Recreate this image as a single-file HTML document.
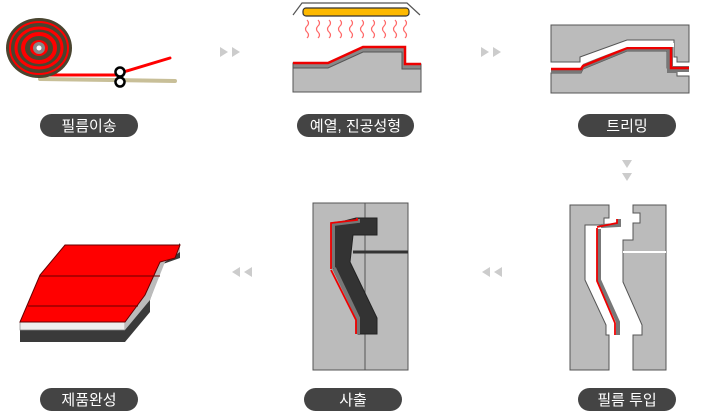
<!DOCTYPE html>
<html><head><meta charset="utf-8"><style>
body{margin:0;background:#fff;}
svg{display:block}
.l{font-family:"Liberation Sans","Noto Sans CJK KR",sans-serif;font-size:15px;fill:#fff;text-anchor:middle}
</style></head><body>
<svg width="702" height="420" viewBox="0 0 702 420" xmlns="http://www.w3.org/2000/svg">
<!-- step 1: roll -->
<line x1="40" y1="79" x2="175" y2="81" stroke="#c8bf98" stroke-width="4" stroke-linecap="round"/>
<line x1="40" y1="75" x2="120" y2="75" stroke="#f00" stroke-width="3"/>
<line x1="120" y1="73" x2="170" y2="58" stroke="#f00" stroke-width="3" stroke-linecap="round"/>
<ellipse cx="39" cy="48" rx="33" ry="30" fill="#4a4530"/>
<ellipse cx="39" cy="48" rx="29" ry="26" fill="none" stroke="#f00" stroke-width="2"/>
<ellipse cx="39" cy="48" rx="23" ry="20" fill="none" stroke="#f00" stroke-width="3"/>
<ellipse cx="39" cy="48" rx="16" ry="14" fill="none" stroke="#f00" stroke-width="4"/>
<ellipse cx="39" cy="48" rx="9" ry="8" fill="#f00"/>
<circle cx="39" cy="48" r="6" fill="#888"/>
<circle cx="39" cy="48" r="2.5" fill="#fff"/>
<circle cx="120" cy="72" r="4.5" fill="#fff" stroke="#000" stroke-width="2.5"/>
<circle cx="120" cy="82" r="4.5" fill="#fff" stroke="#000" stroke-width="2.5"/>
<!-- arrows -->
<g fill="#ccc">
<polygon points="220,47 228,52 220,57"/><polygon points="232,47 240,52 232,57"/>
<polygon points="481,47 489,52 481,57"/><polygon points="493,47 501,52 493,57"/>
<polygon points="622,160 632,160 627,168"/><polygon points="622,173 632,173 627,181"/>
<polygon points="240,267 232,272 240,277"/><polygon points="252,267 244,272 252,277"/>
<polygon points="490,267 482,272 490,277"/><polygon points="502,267 494,272 502,277"/>
</g>
<!-- step 2: heater -->
<polyline points="293,15 302,3 407,3 420,15" fill="none" stroke="#555" stroke-width="1.2"/>
<rect x="303" y="8" width="106" height="8" rx="3" fill="#fdb900" stroke="#333" stroke-width="1.2"/>
<g fill="none" stroke="#f66" stroke-width="1.2">
<path d="M307,20 q3,3 0,6 q-3,3 0,6 q3,3 0,6"/><path d="M318,20 q3,3 0,6 q-3,3 0,6 q3,3 0,6"/>
<path d="M329,20 q3,3 0,6 q-3,3 0,6 q3,3 0,6"/><path d="M340,20 q3,3 0,6 q-3,3 0,6 q3,3 0,6"/>
<path d="M351,20 q3,3 0,6 q-3,3 0,6 q3,3 0,6"/><path d="M362,20 q3,3 0,6 q-3,3 0,6 q3,3 0,6"/>
<path d="M373,20 q3,3 0,6 q-3,3 0,6 q3,3 0,6"/><path d="M384,20 q3,3 0,6 q-3,3 0,6 q3,3 0,6"/>
<path d="M395,20 q3,3 0,6 q-3,3 0,6 q3,3 0,6"/><path d="M405,20 q3,3 0,6 q-3,3 0,6 q3,3 0,6"/>
</g>
<polygon points="293,63 328,63 363,47 405,47 405,64 421,64 421,92 293,92" fill="#888" stroke="#555"/>
<polygon points="293,68 328,68 363,52 402,52 402,69 421,69 421,92 293,92" fill="#bbb" stroke="#555"/>
<polyline points="293,63 328,63 363,47 405,47 405,64 421,64" fill="none" stroke="#e00" stroke-width="2.5"/>
<!-- step 3: trimming -->
<polygon points="551,25 689,25 689,62 677,62 677,57 674,57 674,40 627,40 580,57 580,62 551,62" fill="#bbb" stroke="#555"/>
<polygon points="551,73 581,73 583,69 627,51 667,51 667,68 677,68 677,76 689,76 689,93 551,93" fill="#bbb" stroke="#555"/>
<polygon points="551,68 581,68 583,64 627,46 673,46 673,66 689,66 689,72 677,72 677,73 667,73 667,51 627,51 583,69 581,73 551,73" fill="#777"/>
<polyline points="551,69 581,69 583,66 627,48 671,48 671,68 689,68" fill="none" stroke="#e00" stroke-width="2.5"/>
<polygon points="582,60 627,43 674,43 674,47 627,47 582,64" fill="#fff"/>
<!-- step 4: injection -->
<rect x="313" y="203" width="95" height="167" fill="#bbb" stroke="#555"/>
<line x1="365" y1="203" x2="365" y2="370" stroke="#555"/>
<line x1="353" y1="252" x2="408" y2="252" stroke="#333" stroke-width="3"/>
<polygon points="333,224 356,218 377,218 377,235 353,235 350,262 377,318 377,334 358,334 358,320 333,268" fill="#333" stroke="#222"/>
<polyline points="333,268 333,224 358,221 358,219" fill="none" stroke="#777" stroke-width="4"/>
<polyline points="334,268 358,318 358,334" fill="none" stroke="#777" stroke-width="4"/>
<polyline points="331,269 331,223 357,220 357,218" fill="none" stroke="#e00" stroke-width="1.8"/>
<polyline points="331,270 356,320 356,334" fill="none" stroke="#e00" stroke-width="1.8"/>
<!-- step 5: film insertion -->
<polygon points="570,205 609,205 609,218 604,218 604,225 585,225 585,280 606,325 606,335 609,335 609,370 570,370" fill="#bbb" stroke="#555"/>
<polygon points="633,205 666,205 666,370 633,370 633,335 642,335 642,325 623,282 623,240 633,240 633,223 640,223 640,213 633,213" fill="#bbb" stroke="#555"/>
<line x1="623" y1="252" x2="666" y2="252" stroke="#fff" stroke-width="2"/>
<polyline points="599,229 599,280 618,322 618,335" fill="none" stroke="#777" stroke-width="4"/>
<polyline points="601,226 619,225 619,219" fill="none" stroke="#777" stroke-width="4"/>
<polyline points="597,227 617,223 617,219" fill="none" stroke="#e00" stroke-width="1.8"/>
<polyline points="597,228 597,281 615,323 615,335" fill="none" stroke="#e00" stroke-width="1.8"/>
<!-- step 6: product -->
<polygon points="20,330 125,330 125,342 20,342" fill="#3a3a3a"/>
<polygon points="20,322 125,322 125,330 20,330" fill="#eee" stroke="#888" stroke-width="0.7"/>
<polygon points="125,322 125,342 150,312 150,300 163,264 180,258 180,243 176,248 175,258 160,262 145,295" fill="#3a3a3a"/>
<polygon points="125,322 145,295 160,262 175,254 180,246 180,252 165,262 150,300 125,330" fill="#bbb"/>
<polygon points="20,322 40,275 65,245 180,245 175,258 160,262 145,295 125,322" fill="#f00" stroke="#600" stroke-width="1"/>
<line x1="40" y1="276" x2="160" y2="276" stroke="#600" stroke-width="1"/>
<line x1="28" y1="306" x2="138" y2="306" stroke="#600" stroke-width="1"/>
<!-- labels -->
<g fill="#444">
<rect x="40" y="114" width="98" height="23" rx="11.5"/>
<rect x="297" y="114" width="117" height="23" rx="11.5"/>
<rect x="578" y="114" width="98" height="23" rx="11.5"/>
<rect x="40" y="388" width="98" height="23" rx="11.5"/>
<rect x="304" y="388" width="98" height="23" rx="11.5"/>
<rect x="578" y="388" width="98" height="23" rx="11.5"/>
</g>
<text class="l" x="89" y="131">필름이송</text>
<text class="l" x="355.5" y="131">예열, 진공성형</text>
<text class="l" x="627" y="131">트리밍</text>
<text class="l" x="89" y="405">제품완성</text>
<text class="l" x="353" y="405">사출</text>
<text class="l" x="627" y="405">필름 투입</text>
</svg>
</body></html>
